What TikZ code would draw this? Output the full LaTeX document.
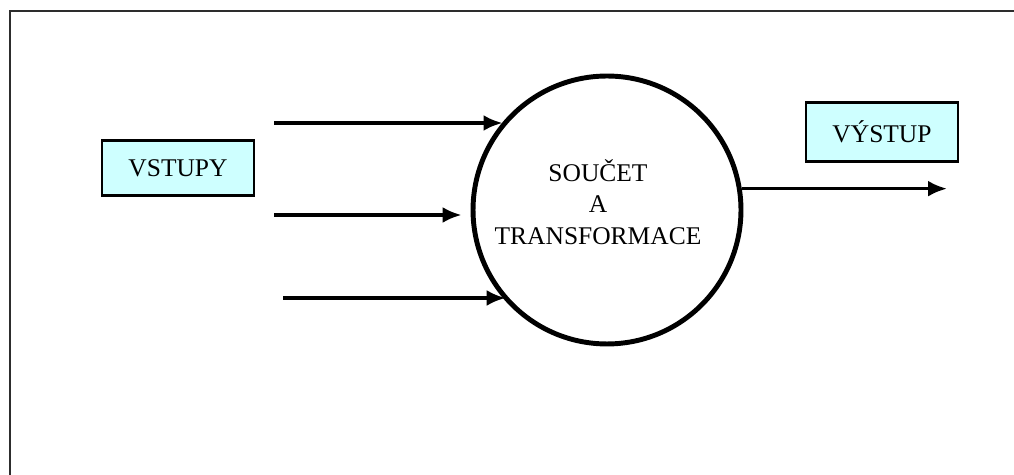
\documentclass[tikz,border=0pt]{standalone}
\usepackage{fontspec}
\setmainfont{Liberation Serif}
\usepackage{tikz}
\usetikzlibrary{arrows.meta, positioning, calc}
\definecolor{boxColor}{RGB}{206,255,255}
\definecolor{frameColor}{RGB}{45,45,45}
\tikzstyle{iobox} = [rectangle, draw=black, fill=boxColor, line width=1.4pt, minimum width=3.04cm, align=center]
\tikzstyle{unit} = [circle, draw=black, line width=2.8pt, minimum size=5.36cm]
\tikzstyle{arrow} = [line width=2pt, -{Latex[length=3.8mm, width=3.2mm]}]

\begin{document}
\begin{tikzpicture}[x=0.02cm, y=-0.02cm, font=\fontsize{14.5}{17.8}\selectfont]
            \clip (0,0) rectangle (1014,475);
            % Outer frame
            \draw[line width=1.5pt, frameColor] (10,11) rectangle (1040,500);

            % Summing unit
            \node[unit] (sum) at (607,210) {};
            \node[align=center] (sumtext) at (598,202) {SOUČET\\A\\TRANSFORMACE};

            % Labels
            \node[iobox, minimum height=1.1cm] (inputs) at (178,168) {VSTUPY};
            \node[iobox, minimum height=1.18cm] (output) at (882,132) {VÝSTUP};

            % Input arrows
            \coordinate (in1) at (274,123);
            \coordinate (in2) at (274,215);
            \coordinate (in3) at (283,298);
            \coordinate (in2end) at ($(in2 -| sum.west)+(-9,0)$);
            \draw[arrow] (in1) -- (in1 -| sum.140.6);
            \draw[arrow] (in2) -- (in2end);
            \draw[arrow] (in3) -- (in3 -| sum.222.3);

            % Output arrow
            \coordinate (out) at (947,188);
            \draw[arrow] (sum.9.4) -- (sum.9.4 -| out);
        \end{tikzpicture}
\end{document}
